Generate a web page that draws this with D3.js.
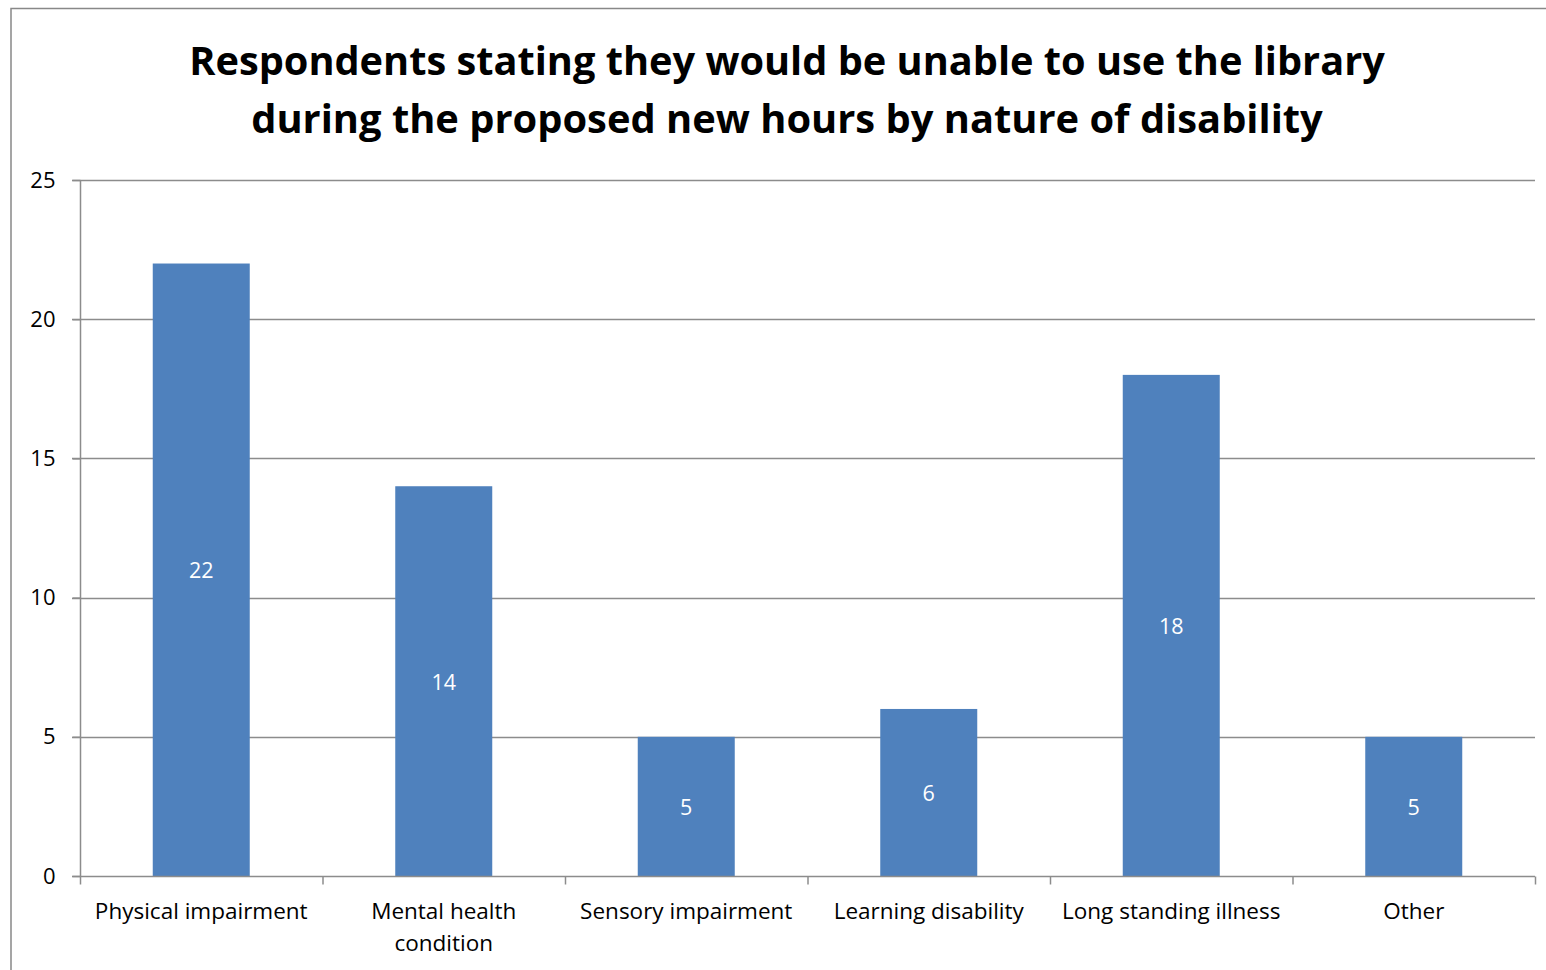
<!DOCTYPE html>
<html><head><meta charset="utf-8">
<script src="https://cdn.jsdelivr.net/npm/d3@7"></script>
<style>body{margin:0;background:#fff;} text{font-family:"Open Sans","Noto Sans",sans-serif;}</style>
</head><body>
<svg id="c" width="1546" height="970"></svg>
<script>
const categories = [["Physical impairment"],["Mental health","condition"],["Sensory impairment"],["Learning disability"],["Long standing illness"],["Other"]];
const values = [22,14,5,6,18,5];
const yTicks = [0,5,10,15,20,25];
const titleLines = ["Respondents stating they would be unable to use the library","during the proposed new hours by nature of disability"];

const svg = d3.select("#c");
// outer frame
svg.append("rect").attr("x",11).attr("y",8.5).attr("width",1560).attr("height",1000)
  .attr("fill","none").attr("stroke","#888").attr("stroke-width",1.5);

const L=80,R=1535,T=180,B=876;
const x = d3.scaleBand().domain(d3.range(categories.length)).range([L,R]).paddingInner(0).paddingOuter(0);
const y = d3.scaleLinear().domain([0,25]).range([B,T]);

// gridlines
svg.append("g").selectAll("line").data(yTicks.filter(d=>d>0)).join("line")
  .attr("x1",L-8).attr("x2",R).attr("y1",d=>Math.round(y(d))+0.5).attr("y2",d=>Math.round(y(d))+0.5)
  .attr("stroke","#8c8c8c").attr("stroke-width",1.5);

// bars
const bw = x.bandwidth()*0.4;
svg.append("g").selectAll("rect").data(values).join("rect")
  .attr("x",(d,i)=>x(i)+x.bandwidth()/2-bw/2).attr("width",bw)
  .attr("y",d=>y(d)).attr("height",d=>B-y(d)).attr("fill","#4F81BD");

// data labels
svg.append("g").selectAll("text").data(values).join("text")
  .attr("x",(d,i)=>x(i)+x.bandwidth()/2).attr("y",d=>(y(d)+B)/2+1)
  .attr("dy","0.35em").attr("text-anchor","middle").attr("fill","#fff")
  .attr("font-size",21.5).text(d=>d);

// y axis
const ya = svg.append("g").attr("transform",`translate(${L+0.5},0)`)
  .call(d3.axisLeft(y).tickValues(yTicks).tickSize(8).tickPadding(17));
ya.select(".domain").attr("stroke","#8c8c8c").attr("stroke-width",1.5).attr("d",`M0,${T}V${B}`);
ya.selectAll(".tick line").attr("stroke","#8c8c8c").attr("stroke-width",1.5);
ya.selectAll(".tick text").attr("font-size",22).attr("fill","#000").attr("font-family","Open Sans");

// x axis
const xa = svg.append("g").attr("transform",`translate(0,${B+0.5})`);
xa.append("line").attr("x1",L-8).attr("x2",R).attr("stroke","#8c8c8c").attr("stroke-width",1.5);
const bounds = d3.range(categories.length+1).map(i=> i<categories.length ? x(i) : R);
xa.selectAll(".tk").data(bounds).join("line").attr("class","tk")
  .attr("x1",d=>d+0.5).attr("x2",d=>d+0.5).attr("y1",0).attr("y2",8)
  .attr("stroke","#8c8c8c").attr("stroke-width",1.5);
const lbl = svg.append("g").selectAll("text").data(categories).join("text")
  .attr("x",(d,i)=>x(i)+x.bandwidth()/2).attr("y",919)
  .attr("text-anchor","middle").attr("font-size",22.5).attr("fill","#000");
lbl.each(function(d){
  const t=d3.select(this);
  d.forEach((s,k)=>t.append("tspan").attr("x",t.attr("x")).attr("dy",k?32:0).text(s));
});

// title
const tt = svg.append("g").selectAll("text").data(titleLines).join("text")
  .attr("x",787).attr("y",(d,i)=>75+i*58).attr("text-anchor","middle")
  .attr("font-weight","bold").attr("font-size",38).attr("fill","#000").text(d=>d);
const targets=[1196,1072];
tt.each(function(d,i){
  const w=this.getComputedTextLength();
  d3.select(this).attr("font-size",38*targets[i]/w);
});
</script>
</body></html>
